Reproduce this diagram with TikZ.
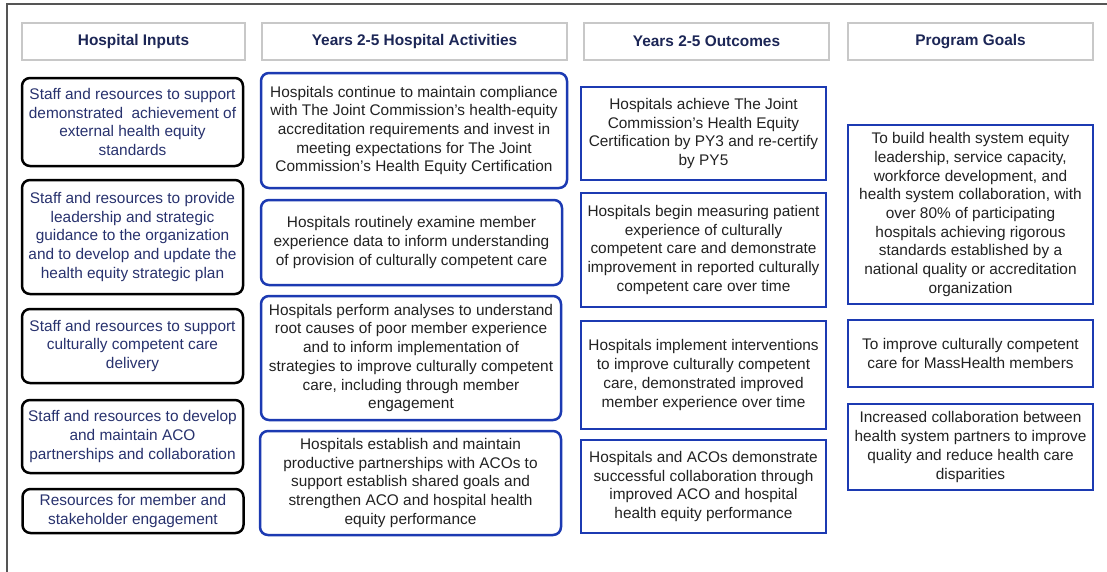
\documentclass[tikz,border=0pt]{standalone}
\usepackage{fontspec}
\setmainfont{Liberation Sans}
\definecolor{bluebd}{RGB}{28,58,178}
\definecolor{graybd}{RGB}{200,200,200}
\definecolor{framec}{RGB}{85,85,85}
\definecolor{hdrtxt}{RGB}{28,38,86}
\definecolor{intxt}{RGB}{40,50,110}
\definecolor{bodytxt}{RGB}{34,34,34}
\begin{document}
\begin{tikzpicture}[x=1pt,y=-1pt,
  base/.style={align=center,inner sep=0pt,font=\fontsize{15.4}{18.7}\selectfont},
  hdr/.style={base,draw=graybd,line width=2.4pt,text=hdrtxt,font=\fontsize{15.4}{18.7}\selectfont\bfseries},
  inbox/.style={base,draw=black,line width=2.5pt,rounded corners=8pt,text=intxt},
  actbox/.style={base,draw=bluebd,line width=2.5pt,rounded corners=8pt,text=bodytxt},
  outbox/.style={base,draw=bluebd,line width=2.5pt,text=bodytxt}]
\useasboundingbox (0,0) rectangle (1107,571);
\fill[white] (0,0) rectangle (1107,571);
\draw[framec,line width=2pt] (7,575) -- (7,4) -- (1110,4);

% headers
\node[hdr,minimum width=223pt,minimum height=37pt] (h1) at (133.5,41.5) {Hospital Inputs};
\node[hdr,minimum width=305pt,minimum height=37pt] (h2) at (414.5,41.5) {Years 2-5 Hospital Activities};
\node[hdr,minimum width=245pt,minimum height=37pt] (h3) at (706.5,41.5) {Years 2-5 Outcomes};
\node[hdr,minimum width=245pt,minimum height=37pt] (h4) at (970.5,41.5) {Program Goals};

% inputs
\node[inbox,minimum width=221pt,minimum height=88pt] (i1) at (132.5,122) {Staff and resources to support\\demonstrated\ \ achievement of\\external health equity\\standards};
\node[inbox,minimum width=221pt,minimum height=114pt] (i2) at (132.5,237) {Staff and resources to provide\\leadership and strategic\\guidance to the organization\\and to develop and update the\\health equity strategic plan};
\node[inbox,minimum width=221pt,minimum height=74pt] (i3) at (132.5,346) {Staff and resources to support\\culturally competent care\\delivery};
\node[inbox,minimum width=221pt,minimum height=73pt] (i4) at (132.5,436.5) {Staff and resources to develop\\and maintain ACO\\partnerships and collaboration};
\node[inbox,minimum width=221pt,minimum height=44pt] (i5) at (133,511) {Resources for member and\\stakeholder engagement};

% activities
\node[actbox,minimum width=306pt,minimum height=115pt] (a1) at (414,130.5) {Hospitals continue to maintain compliance\\with The Joint Commission’s health-equity\\accreditation requirements and invest in\\meeting expectations for The Joint\\Commission’s Health Equity Certification};
\node[actbox,minimum width=301pt,minimum height=85pt] (a2) at (411.5,242.5) {Hospitals routinely examine member\\experience data to inform understanding\\of provision of culturally competent care};
\node[actbox,minimum width=300pt,minimum height=124pt] (a3) at (411,358) {Hospitals perform analyses to understand\\root causes of poor member experience\\and to inform implementation of\\strategies to improve culturally competent\\care, including through member\\engagement};
\node[actbox,minimum width=301pt,minimum height=104pt] (a4) at (410.5,483) {Hospitals establish and maintain\\productive partnerships with ACOs to\\support establish shared goals and\\strengthen ACO and hospital health\\equity performance};

% outcomes
\node[outbox,minimum width=245pt,minimum height=93pt] (o1) at (703.5,133.5) {Hospitals achieve The Joint\\Commission’s Health Equity\\Certification by PY3 and re-certify\\by PY5};
\node[outbox,minimum width=245pt,minimum height=114pt] (o2) at (703.5,250) {Hospitals begin measuring patient\\experience of culturally\\competent care and demonstrate\\improvement in reported culturally\\competent care over time};
\node[outbox,minimum width=245pt,minimum height=108pt] (o3) at (703.5,375) {Hospitals implement interventions\\to improve culturally competent\\care, demonstrated improved\\member experience over time};
\node[outbox,minimum width=245pt,minimum height=93pt] (o4) at (703.5,486.5) {Hospitals and ACOs demonstrate\\successful collaboration through\\improved ACO and hospital\\health equity performance};

% goals
\node[outbox,minimum width=245pt,minimum height=179pt] (g1) at (970.5,214.5) {To build health system equity\\leadership, service capacity,\\workforce development, and\\health system collaboration, with\\over 80\% of participating\\hospitals achieving rigorous\\standards established by a\\national quality or accreditation\\organization};
\node[outbox,minimum width=245pt,minimum height=67pt] (g2) at (970.5,353.5) {To improve culturally competent\\care for MassHealth members};
\node[outbox,minimum width=245pt,minimum height=86pt] (g3) at (970.5,447) {Increased collaboration between\\health system partners to improve\\quality and reduce health care\\disparities};
\end{tikzpicture}
\end{document}
